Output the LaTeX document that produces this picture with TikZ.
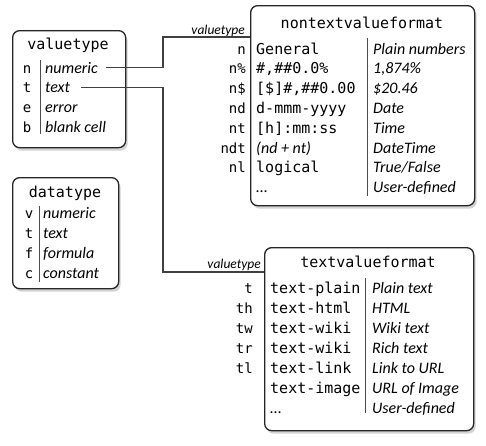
\documentclass[tikz,border=0pt]{standalone}
\usepackage{fontspec}
\usetikzlibrary{shadows}
\newfontfamily\monofam{DejaVu Sans Mono}
\newfontfamily\descfam{Carlito}

\tikzset{
  box/.style={draw=black!85, line width=1.3pt, rounded corners=7pt, fill=white,
    drop shadow={shadow xshift=2pt, shadow yshift=-3pt, opacity=0.35},
    anchor=north west, inner sep=0pt},
  boxtitle/.style={font=\monofam\fontsize{15}{15}\selectfont, anchor=base, inner sep=0pt},
  key/.style={font=\monofam\fontsize{14}{14}\selectfont, inner sep=0pt},
  code/.style={font=\monofam\fontsize{15}{15}\selectfont, anchor=base west, inner sep=0pt},
  desc/.style={font=\descfam\itshape\fontsize{16}{16}\selectfont, anchor=base west, inner sep=0pt},
  portlabel/.style={font=\descfam\itshape\fontsize{13.5}{13.5}\selectfont, anchor=base east, inner sep=0pt},
  divider/.style={draw=black!70, line width=0.8pt},
  link/.style={draw=black!75, line width=1.2pt}
}

\begin{document}
\begin{tikzpicture}[x=1pt, y=-1pt]
  \useasboundingbox (0,0) rectangle (486,445);

  % valuetype
  \node[box, minimum width=113pt, minimum height=117pt] (valuetype) at (12,30) {};
  \node[boxtitle] (vt-title) at (68,49) {valuetype};
  \foreach \k/\v [count=\i from 0] in {n/numeric, t/text, e/error, b/blank cell} {
    \node[key, anchor=base] (vt-key-\i) at (27,73+19.8*\i) {\k};
    \node[desc] (vt-\i) at (45,73+19.8*\i) {\v};
  }
  \draw[divider] (40,60) -- (40,134);

  % datatype
  \node[box, minimum width=106pt, minimum height=111pt] (datatype) at (12,177) {};
  \node[boxtitle] (dt-title) at (65,197) {datatype};
  \foreach \k/\v [count=\i from 0] in {v/numeric, t/text, f/formula, c/constant} {
    \node[key, anchor=base] (dt-key-\i) at (29,218+20*\i) {\k};
    \node[desc] (dt-\i) at (43,218+20*\i) {\v};
  }
  \draw[divider] (39,206) -- (39,282);

  % nontextvalueformat
  \node[box, minimum width=224pt, minimum height=200pt] (nontext) at (250,5) {};
  \node[boxtitle] (nt-title) at (362,28) {nontextvalueformat};
  \foreach \k/\c/\v [count=\i from 0] in {n/General/Plain numbers, n\%/{\#,\#\#0.0\%}/1{,}874\%,
      n\${}/{[\$]\#,\#\#0.00}/\$20.46, nd/d-mmm-yyyy/Date, nt/[h]:mm:ss/Time,
      ndt/{\descfam\itshape\fontsize{16}{16}\selectfont (nd + nt)}/DateTime, nl/logical/True{/}False,
      /{\descfam\fontsize{16}{16}\selectfont\dots}/User-defined} {
    \node[key, anchor=base east] (nt-key-\i) at (246,54+19.8*\i) {\k};
    \node[code] (nt-code-\i) at (256,54+19.8*\i) {\c};
    \node[desc] (nt-desc-\i) at (373,54+19.8*\i) {\v};
  }
  \draw[divider] (367,38) -- (367,196);
  \coordinate (nt-port) at ([yshift=-32pt]nontext.north west);
  \node[portlabel] (nt-vt) at (245,34) {valuetype};

  % textvalueformat
  \node[box, minimum width=209pt, minimum height=183pt] (textvalue) at (264,247) {};
  \node[boxtitle] (tv-title) at (368,267) {textvalueformat};
  \foreach \k/\c/\v [count=\i from 0] in {t/text-plain/Plain text, th/text-html/HTML,
      tw/text-wiki/Wiki text, tr/text-wiki/Rich text, tl/text-link/Link to URL,
      /text-image/URL of Image, /{\descfam\fontsize{16}{16}\selectfont\dots}/User-defined} {
    \node[key, anchor=base east] (tv-key-\i) at (253,293+20*\i) {\k};
    \node[code] (tv-code-\i) at (270,293+20*\i) {\c};
    \node[desc] (tv-desc-\i) at (372,293+20*\i) {\v};
  }
  \draw[divider] (365,278) -- (365,413);
  \coordinate (tv-port) at ([yshift=-25pt]textvalue.north west);
  \node[portlabel] (tv-vt) at (261,268) {valuetype};

  % links
  \draw[link] ([xshift=8pt]vt-0.east) -| ([xshift=-87pt]nt-port) -- (nt-port);
  \draw[link] ([xshift=11pt]vt-1.east) -| ([xshift=-101pt]tv-port) -- (tv-port);
\end{tikzpicture}
\end{document}
